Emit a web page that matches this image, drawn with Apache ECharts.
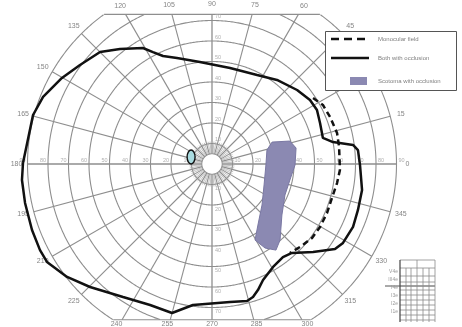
<!DOCTYPE html>
<html>
<head>
<meta charset="utf-8">
<script src="https://cdn.jsdelivr.net/npm/echarts@6/dist/echarts.min.js"></script>
<style>
  html, body { margin: 0; padding: 0; background: #ffffff; }
  #chart { width: 462px; height: 327px; }
</style>
</head>
<body>
<div id="chart"></div>
<script>
// Perimetry chart. Coordinates are in degrees of visual angle:
// x = horizontal eccentricity (right positive), y = vertical eccentricity (up positive).

// Isopter circles (degrees) and frame limits of the chart form
const ringEccentricities = [5, 10, 20, 30, 40, 50, 60, 70, 80, 90];
const ringLabelValues = [10, 20, 30, 40, 50, 60, 70, 80, 90];
const meridianAngles = [0, 15, 30, 45, 60, 75, 90, 105, 120, 135, 150, 165,
                        180, 195, 210, 225, 240, 255, 270, 285, 300, 315, 330, 345];
const frameRadius = 90;
const frameTop = 73;
const frameBottom = -76;

// Binocular field with occluder (solid isopter), [x, y] in degrees
const bothEyesIsopter = [
  [-92.2, 0.5], [-87.3, 23.9], [-82.4, 32.7], [-73.2, 42.0], [-64.4, 48.3],
  [-54.6, 54.6], [-44.9, 56.1], [-33.7, 56.6], [-28.8, 54.6], [-23.9, 52.7],
  [-17.1, 51.7], [-5.9, 49.8], [8.8, 46.8], [22.0, 43.4], [31.7, 41.0],
  [41.5, 36.1], [47.8, 31.2], [51.2, 26.3], [52.7, 20.0], [54.1, 12.7],
  [59.0, 10.7], [68.8, 9.3], [71.2, 6.8], [72.2, -0.5], [73.2, -12.7],
  [71.2, -22.4], [68.8, -30.7], [63.9, -38.5], [60.0, -41.5], [49.3, -42.9],
  [39.0, -43.4], [34.6, -45.4], [29.8, -50.2], [24.9, -56.6], [22.4, -61.5],
  [20.0, -64.9], [17.1, -66.8], [8.8, -67.3], [-9.3, -68.8], [-19.5, -72.7],
  [-30.2, -68.8], [-43.4, -64.9], [-59.5, -60.0], [-70.7, -55.1], [-80.5, -47.8],
  [-83.9, -42.0], [-87.8, -32.2], [-91.2, -19.0], [-92.7, -7.8], [-92.2, 0.5]
];

// Monocular field (dashed isopter) where it departs from the binocular one
const monocularIsopter = [
  [49.3, 32.2], [54.1, 28.8], [57.6, 22.9], [61.0, 15.1], [62.0, 8.3],
  [62.4, -2.9], [61.0, -9.3], [58.5, -16.6], [56.1, -23.9], [52.7, -30.7],
  [48.8, -36.1], [42.9, -40.5], [38.0, -43.4]
];

// Scotoma outline, [x, y] in degrees
const scotomaOutline = [
  [29.3, 10.7], [38.0, 11.2], [41.0, 7.8], [40.5, -0.5], [38.0, -7.8],
  [35.6, -15.1], [34.1, -24.9], [33.2, -37.1], [31.2, -42.0], [25.9, -41.0],
  [21.0, -37.1], [22.4, -29.8], [24.4, -20.0], [25.4, -10.2], [26.3, -0.5],
  [26.8, 6.8]
];

// Physiological blind spot: centre [x, y] and size [width, height] in degrees
const blindSpotCenter = [-10.2, 3.4];
const blindSpotSize = [3.9, 6.8];

// Legend entries
const legendEntries = ['Monocular field', 'Both with occlusion', 'Scotoma with occlusion'];

// Stimulus table (bottom right)
const stimulusRows = ['V4e', 'III4e', 'I4e', 'I3e', 'I2e', 'I1e'];

const GRID = '#8e8e8e';
const LABEL = '#858585';
const deg = Math.PI / 180;

function inFrame(y) { return y <= frameTop + 1e-6 && y >= frameBottom - 1e-6; }

function boundaryRadius(theta) {
  const s = Math.sin(theta * deg);
  let r = frameRadius;
  if (s > 1e-9) r = Math.min(r, frameTop / s);
  if (s < -1e-9) r = Math.min(r, -frameBottom / -s);
  return r;
}

function renderGraticule(params, api) {
  const children = [];
  const line = (pts, w, color) => children.push({
    type: 'polyline', shape: { points: pts },
    style: { stroke: color || GRID, lineWidth: w || 1.1, fill: null }
  });
  const c = (x, y) => api.coord([x, y]);

  // circles, clipped by the top and bottom edges of the form
  ringEccentricities.forEach(r => {
    let seg = [];
    for (let a = 0; a <= 360; a += 0.5) {
      let x = r * Math.cos(a * deg), y = r * Math.sin(a * deg);
      if (inFrame(y)) {
        seg.push(c(x, y));
      } else {
        if (seg.length > 1) line(seg);
        seg = [];
      }
    }
    if (seg.length > 1) line(seg);
  });

  // straight top and bottom edges of the form
  const topHalf = Math.sqrt(frameRadius * frameRadius - frameTop * frameTop);
  const botHalf = Math.sqrt(frameRadius * frameRadius - frameBottom * frameBottom);
  line([c(-topHalf, frameTop), c(topHalf, frameTop)]);
  line([c(-botHalf, frameBottom), c(botHalf, frameBottom)]);

  // meridians every 15 degrees
  meridianAngles.forEach(t => {
    const rEnd = boundaryRadius(t);
    const cs = Math.cos(t * deg), sn = Math.sin(t * deg);
    line([c(5 * cs, 5 * sn), c(rEnd * cs, rEnd * sn)], t % 90 === 0 ? 1.3 : 1.1);
  });
  // short central meridians every 5 degrees
  for (let t = 0; t < 360; t += 5) {
    if (t % 15 === 0) continue;
    const cs = Math.cos(t * deg), sn = Math.sin(t * deg);
    line([c(5 * cs, 5 * sn), c(11 * cs, 11 * sn)], 0.7, '#a8a8a8');
  }

  // meridian labels just outside the form
  meridianAngles.forEach(t => {
    const rEnd = boundaryRadius(t);
    const cs = Math.cos(t * deg), sn = Math.sin(t * deg);
    const p = c(rEnd * cs, rEnd * sn);
    let px = p[0] + 11 * cs, py = p[1] - 10 * sn;
    py = Math.max(4, Math.min(324, py));
    children.push({
      type: 'text', x: px, y: py,
      style: { text: String(t), fill: LABEL, font: '7px "Liberation Sans", Arial, sans-serif',
               align: 'center', verticalAlign: 'middle' }
    });
  });

  // eccentricity labels along the principal meridians
  ringLabelValues.forEach(r => {
    [[-1, 0], [1, 0], [0, 1], [0, -1]].forEach(([dx, dy]) => {
      const x = dx * r, y = dy * r;
      if (!inFrame(y)) return;
      const p = c(x, y);
      const lx = dx !== 0 ? p[0] + dx * 5 : p[0] + 6;
      const ly = dy !== 0 ? p[1] - dy * 4 : p[1] - 4;
      children.push({
        type: 'text', x: lx, y: ly,
        style: { text: String(r), fill: '#b0b0b0', font: '5.5px "Liberation Sans", Arial, sans-serif',
                 align: 'center', verticalAlign: 'middle' }
      });
    });
  });

  return { type: 'group', children: children };
}

function renderScotoma(params, api) {
  return {
    type: 'polygon',
    shape: { points: scotomaOutline.map(p => api.coord(p)) },
    style: { fill: '#8b89b2', stroke: '#7a78a3', lineWidth: 1 }
  };
}

function renderBlindSpot(params, api) {
  const p = api.coord(blindSpotCenter);
  const s = api.size(blindSpotSize);
  return {
    type: 'ellipse',
    shape: { cx: p[0], cy: p[1], rx: s[0] / 2, ry: s[1] / 2 },
    style: { fill: '#a9dbe0', stroke: '#111', lineWidth: 1.4 }
  };
}

// Legend and stimulus table drawn as page graphics, above the chart
const TOP_Z = 100;
function legendGraphics() {
  const font = '6px "Liberation Sans", Arial, sans-serif';
  const els = [
    { type: 'rect', shape: { x: 325.5, y: 31.5, width: 131, height: 59 },
      style: { fill: '#fff', stroke: '#555', lineWidth: 1 } },
    { type: 'line', shape: { x1: 331, y1: 39, x2: 370, y2: 39 },
      style: { stroke: '#111', lineWidth: 2.5, lineDash: [8, 5] } },
    { type: 'line', shape: { x1: 331, y1: 58, x2: 369, y2: 58 },
      style: { stroke: '#111', lineWidth: 2.5 } },
    { type: 'rect', shape: { x: 350, y: 77, width: 17, height: 8 },
      style: { fill: '#8b89b2' } }
  ];
  const ys = [39, 58, 81];
  legendEntries.forEach((t, i) => els.push({
    type: 'text', x: 378, y: ys[i],
    style: { text: t, fill: '#808080', font: font, verticalAlign: 'middle' }
  }));
  els.forEach(e => { e.z = TOP_Z; });
  return els;
}

function tableGraphics() {
  const els = [];
  const stroke = '#8a8a8a';
  const hl = [260, 268, 276, 282, 286, 290, 295, 300, 305, 310, 315, 320];
  const vl = [400, 406, 411, 417, 423, 429, 435];
  hl.forEach(y => els.push({ type: 'line', shape: { x1: 400, y1: y, x2: 435, y2: y },
    style: { stroke: y === 286 ? '#444' : stroke, lineWidth: y === 286 ? 1.2 : 0.8 } }));
  vl.forEach(x => els.push({ type: 'line', shape: { x1: x, y1: x === 400 || x === 435 || x === 417 ? 260 : 268, x2: x, y2: 322 },
    style: { stroke: x === 400 ? '#444' : stroke, lineWidth: x === 400 ? 1.2 : 0.8 } }));
  els.push({ type: 'line', shape: { x1: 385, y1: 286, x2: 400, y2: 286 }, style: { stroke: '#555', lineWidth: 1 } });
  stimulusRows.forEach((t, i) => els.push({
    type: 'text', x: 398, y: 272 + i * 8,
    style: { text: t, fill: '#9a9a9a', font: '5px "Liberation Sans", Arial, sans-serif',
             align: 'right', verticalAlign: 'middle' }
  }));
  els.forEach(e => { e.z = TOP_Z; });
  return els;
}

const chart = echarts.init(document.getElementById('chart'), null, { renderer: 'canvas' });
const pxPerDeg = 2.05, cx = 212, cy = 164;

chart.setOption({
  animation: false,
  backgroundColor: '#ffffff',
  grid: { left: 0, right: 0, top: 0, bottom: 0 },
  xAxis: { type: 'value', min: -cx / pxPerDeg, max: (462 - cx) / pxPerDeg, show: false },
  yAxis: { type: 'value', min: -(327 - cy) / pxPerDeg, max: cy / pxPerDeg, show: false },
  series: [
    { type: 'custom', name: 'grid', data: [0], renderItem: renderGraticule, silent: true, z: 1 },
    { type: 'custom', name: legendEntries[2], data: [0], renderItem: renderScotoma, z: 2 },
    { type: 'custom', name: 'blind spot', data: [0], renderItem: renderBlindSpot, z: 3 },
    { type: 'line', name: legendEntries[0], data: monocularIsopter, showSymbol: false, z: 4,
      lineStyle: { color: '#111', width: 2.5, type: [6, 4] } },
    { type: 'line', name: legendEntries[1], data: bothEyesIsopter, showSymbol: false, z: 5,
      lineStyle: { color: '#111', width: 2.5 } }
  ],
  graphic: legendGraphics().concat(tableGraphics())
});
</script>
</body>
</html>
